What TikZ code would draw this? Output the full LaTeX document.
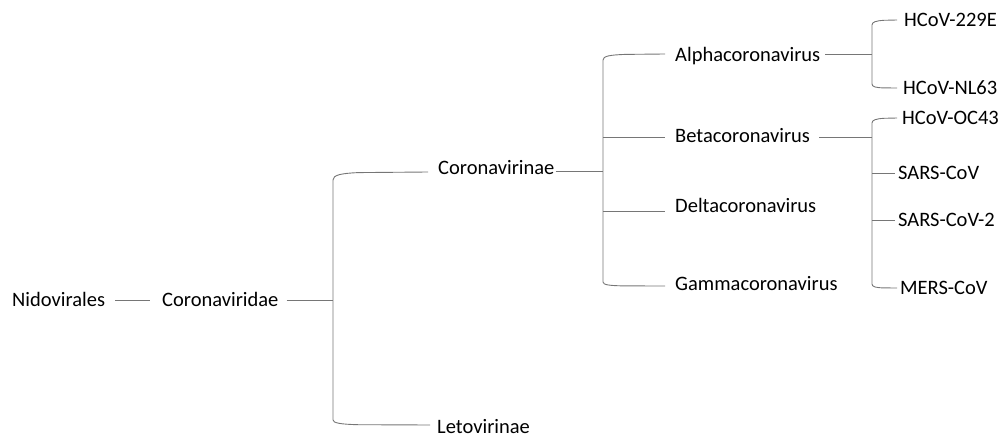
\documentclass[tikz,border=0pt]{standalone}
\usepackage{fontspec}
\setmainfont{Carlito}
\definecolor{lc}{RGB}{118,118,118}
\begin{document}
\begin{tikzpicture}[x=1pt,y=-1pt,
  lbl/.style={anchor=west,inner sep=0pt,font=\fontsize{20.5}{24}\selectfont,text height=13pt,text depth=0pt},
  conn/.style={draw=lc,line width=0.9pt}]
\useasboundingbox (0,0) rectangle (1003,438);
% labels
\node[lbl] (nid)   at (12,300)  {Nidovirales};
\node[lbl] (cdae)  at (162,300) {Coronaviridae};
\node[lbl] (cvin)  at (438,168) {Coronavirinae};
\node[lbl] (leto)  at (437,427) {Letovirinae};
\node[lbl] (alpha) at (675,55)  {Alphacoronavirus};
\node[lbl] (beta)  at (675,136) {Betacoronavirus};
\node[lbl] (delta) at (675,206) {Deltacoronavirus};
\node[lbl] (gamma) at (675,284) {Gammacoronavirus};
\node[lbl] (e229)  at (904,20)  {HCoV-229E};
\node[lbl] (nl63)  at (903,88)  {HCoV-NL63};
\node[lbl] (oc43)  at (902,118) {HCoV-OC43};
\node[lbl] (sars)  at (898,173) {SARS-CoV};
\node[lbl] (sarsb) at (898,220) {SARS-CoV-2};
\node[lbl] (mers)  at (900,288) {MERS-CoV};
% joints
\coordinate (j1) at (333,300);
\coordinate (j2) at (603,171);
\coordinate (j3) at (872,54);
\coordinate (j4) at (872,137);
% arm ends
\coordinate (aCvin) at (428,172);
\coordinate (aLeto) at (430,425);
\coordinate (aAl) at (665,54);
\coordinate (aBe) at (665,137);
\coordinate (aDe) at (665,211);
\coordinate (aGa) at (665,286);
\coordinate (a229) at (897,20);
\coordinate (aNL) at (897,88);
\coordinate (aOC) at (897,118);
\coordinate (aSa) at (895,173);
\coordinate (aSb) at (895,220);
\coordinate (aMe) at (897,288);
% connectors
\draw[conn] ([xshift=10pt]nid.east) -- ([xshift=-12pt]cdae.west);
\draw[conn] ([xshift=8pt]cdae.east) -- (j1);
\draw[conn] (aCvin) -- (358,172.6) .. controls (341,173.4) and (333,175) .. (333,180)
  -- (333,420) .. controls (333,423) and (341,424.3) .. (358,424.7) -- (aLeto);
\draw[conn] ([xshift=1pt]cvin.east |- j2) -- (j2);
\draw[conn] (aAl) -- (625,54.4) .. controls (610,55) and (603,56) .. (603,60)
  -- (603,282) .. controls (603,285) and (610,285.7) .. (625,285.9) -- (aGa);
\draw[conn] (j2 |- aBe) -- (aBe);
\draw[conn] (j2 |- aDe) -- (aDe);
\draw[conn] ([xshift=5pt]alpha.east |- j3) -- (j3);
\draw[conn] (a229) -- (884,20.3) .. controls (876,20.8) and (872,22) .. (872,25)
  -- (872,84) .. controls (872,87) and (876,87.7) .. (884,87.9) -- (aNL);
\draw[conn] ([xshift=9pt]beta.east |- j4) -- (j4);
\draw[conn] (aOC) -- (884,118.3) .. controls (876,118.8) and (872,120) .. (872,123)
  -- (872,284) .. controls (872,287) and (876,287.7) .. (884,287.9) -- (aMe);
\draw[conn] (j4 |- aSa) -- (aSa);
\draw[conn] (j4 |- aSb) -- (aSb);
\end{tikzpicture}
\end{document}
